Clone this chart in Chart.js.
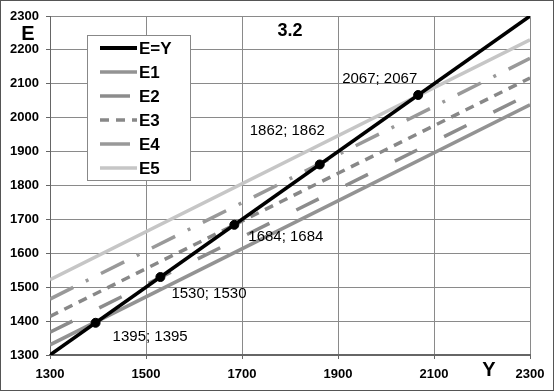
<!doctype html>
<html lang="en">
<head>
  <meta charset="utf-8">
  <title>3.2</title>
  <style>
    body { margin: 0; background: #fff; }
    #wrap { width: 552px; height: 389px; border: 1px solid #555; }
  </style>
</head>
<body>
  <div id="wrap"><canvas id="myChart" width="552" height="389"></canvas></div>

  <script src="https://cdn.jsdelivr.net/npm/chart.js@4.4.2/dist/chart.umd.min.js"></script>
  <script>
    // line ends at Y = 1300 and Y = 2300
    const yEnds = [1300, 2300];
    const eY = [1300, 2300];
    const e1 = [1330, 2038];
    const e2 = [1367, 2070];
    const e3 = [1414, 2117];
    const e4 = [1465, 2175];
    const e5 = [1522, 2230];

    // crossing points with E=Y
    const crossY = [1395, 1530, 1684, 1862, 2067];
    const crossLabels = ['1395; 1395', '1530; 1530', '1684; 1684', '1862; 1862', '2067; 2067'];

    const seriesNames = ['E=Y', 'E1', 'E2', 'E3', 'E4', 'E5'];
    const xTicks = [1300, 1500, 1700, 1900, 2100, 2300];

    // label offsets from point, px
    const labelOffsets = [[17, 14], [11, 17], [14, 12], [-70, -34], [-76, -16]];

    const toPts = (vals) => yEnds.map((x, i) => ({ x: x, y: vals[i] }));

    const lineSet = (label, vals, color, width, dash) => ({
      label: label,
      data: toPts(vals),
      showLine: true,
      borderColor: color,
      backgroundColor: color,
      borderWidth: width,
      borderDash: dash,
      pointRadius: 0,
      fill: false,
      tension: 0
    });

    const lineStyles = [
      ['#000000', 3.5, []],
      ['#939393', 3.5, []],
      ['#8c8c8c', 3.5, [25, 30]],
      ['#888888', 3.5, [9, 7]],
      ['#999999', 3.5, [26, 14, 3, 14]],
      ['#c6c6c6', 3.5, []]
    ];
    const allVals = [eY, e1, e2, e3, e4, e5];

    const datasets = [{
      label: 'points',
      data: crossY.map(v => ({ x: v, y: v })),
      showLine: false,
      pointRadius: 4.5,
      pointBackgroundColor: '#000',
      pointBorderColor: '#000'
    }];
    seriesNames.forEach((n, i) => {
      const s = lineStyles[i];
      datasets.push(lineSet(n, allVals[i], s[0], s[1], s[2]));
    });

    const extras = {
      id: 'extras',
      afterDatasetsDraw(chart) {
        const c = chart.ctx;
        const xs = chart.scales.x, ys = chart.scales.y;
        c.save();
        // point labels
        c.fillStyle = '#000';
        c.font = '15px "Liberation Sans", Arial, sans-serif';
        c.textBaseline = 'middle';
        c.textAlign = 'left';
        crossY.forEach((v, i) => {
          const px = xs.getPixelForValue(v), py = ys.getPixelForValue(v);
          c.fillText(crossLabels[i], px + labelOffsets[i][0], py + labelOffsets[i][1]);
        });
        // title and axis names
        c.font = 'bold 18px "Liberation Sans", Arial, sans-serif';
        c.textAlign = 'center';
        c.fillText('3.2', 289, 30);
        c.font = 'bold 20px "Liberation Sans", Arial, sans-serif';
        c.fillText('E', 27, 33);
        c.fillText('Y', 488, 369);
        // legend
        const lx = 86, ly = 34, lw = 103, lh = 145;
        c.fillStyle = '#fff';
        c.fillRect(lx, ly, lw, lh);
        c.strokeStyle = '#888';
        c.lineWidth = 1;
        c.strokeRect(lx + 0.5, ly + 0.5, lw, lh);
        c.font = 'bold 17px "Liberation Sans", Arial, sans-serif';
        c.textAlign = 'left';
        seriesNames.forEach((n, i) => {
          const y = ly + 13 + i * 24;
          const s = lineStyles[i];
          c.strokeStyle = s[0];
          c.lineWidth = i === 0 ? 4 : s[1];
          c.setLineDash(i === 2 || i === 4 ? [] : s[2]);
          c.beginPath();
          c.moveTo(99, y);
          c.lineTo(i === 2 || i === 4 ? 129 : 136, y);
          c.stroke();
          c.setLineDash([]);
          c.fillStyle = '#000';
          c.fillText(n, 138, y + 1);
        });
        c.restore();
      }
    };

    new Chart(document.getElementById('myChart'), {
      type: 'scatter',
      data: { datasets: datasets },
      options: {
        responsive: false,
        animation: false,
        layout: { padding: { top: 15, right: 23, left: 0, bottom: 0 } },
        plugins: { legend: { display: false }, tooltip: { enabled: false } },
        scales: {
          x: {
            type: 'linear',
            min: 1300,
            max: 2300,
            afterBuildTicks: (s) => { s.ticks = xTicks.map(v => ({ value: v })); },
            afterFit: (s) => { s.height = 35; },
            ticks: {
              color: '#000',
              padding: 8,
              maxRotation: 0,
              font: { family: '"Liberation Sans", Arial, sans-serif', size: 13, weight: 'bold' },
              callback: (v) => String(v)
            },
            grid: { color: '#8a8a8a', tickLength: 4, tickColor: '#666' },
            border: { color: '#666', width: 2 }
          },
          y: {
            type: 'linear',
            min: 1300,
            max: 2300,
            afterFit: (s) => { s.width = 49; },
            ticks: {
              stepSize: 100,
              color: '#000',
              padding: 7,
              font: { family: '"Liberation Sans", Arial, sans-serif', size: 13, weight: 'bold' },
              callback: (v) => String(v)
            },
            grid: { color: '#8a8a8a', tickLength: 4, tickColor: '#666' },
            border: { color: '#666', width: 1 }
          }
        }
      },
      plugins: [extras]
    });
  </script>
</body>
</html>
